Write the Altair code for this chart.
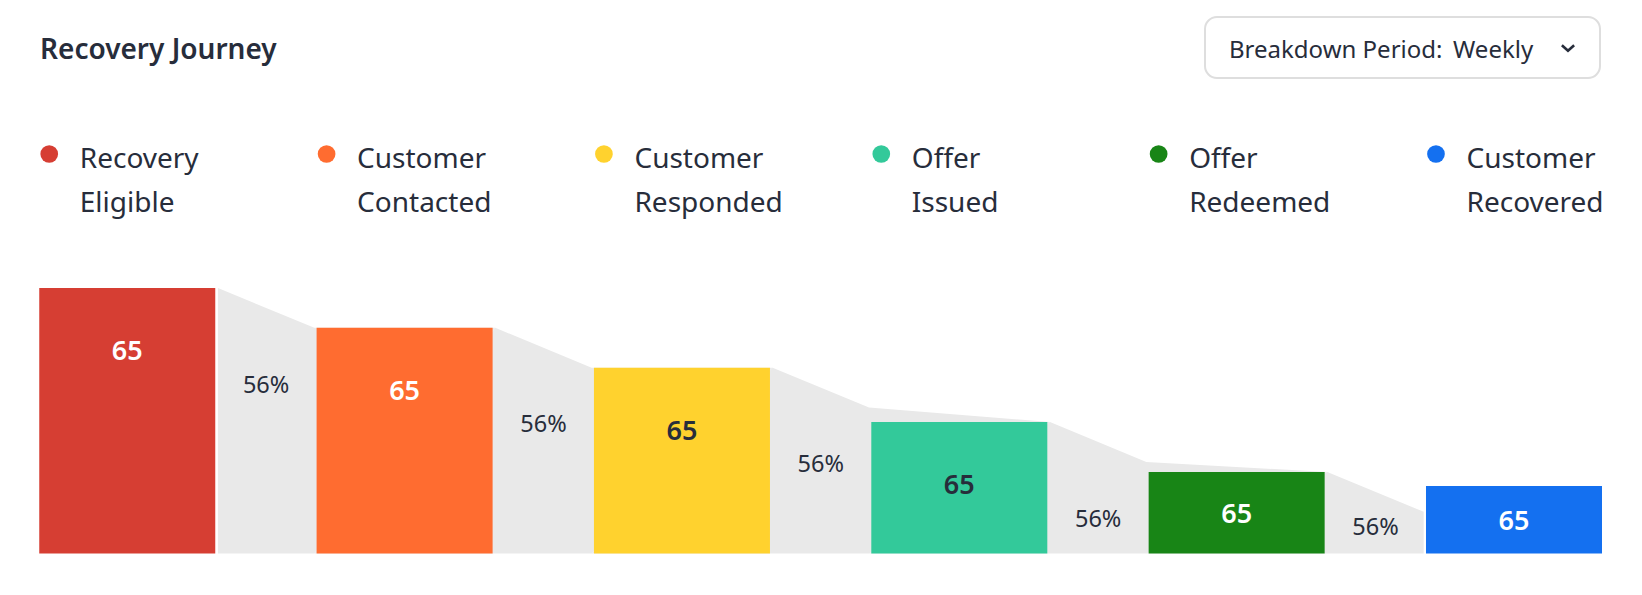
import altair as alt
import pandas as pd

# ---- data ----
stages = ["Recovery Eligible", "Customer Contacted", "Customer Responded",
          "Offer Issued", "Offer Redeemed", "Customer Recovered"]
bar_heights = [100, 85, 70, 49.5, 30.7, 25.4]      # relative bar heights
counts = [65, 65, 65, 65, 65, 65]                   # value labels in bars
conversion_pct = [56, 56, 56, 56, 56]               # step conversion labels

# ---- styles ----
colors = ["#D63E33", "#FF6C30", "#FFD22E", "#33C99A", "#188516", "#1470F0"]
label_colors = ["#FFFFFF", "#FFFFFF", "#272D3B", "#272D3B", "#FFFFFF", "#FFFFFF"]
DARK = "#272D3B"
GREY = "#E9E9E9"
FONT = "Noto Sans"

BAR_W = 0.6346          # bar width in slot units
CONN_X0 = 0.6443        # connector start in slot units
CONN_X1 = 0.9917        # connector end in slot units
DROP = 15               # connector slope drop (in value units)

bars = pd.DataFrame({
    "stage": stages,
    "idx": range(len(stages)),
    "h": bar_heights,
    "count": counts,
    "lcolor": label_colors,
})
bars["x0"] = bars["idx"]
bars["x1"] = bars["idx"] + BAR_W
bars["xc"] = bars["idx"] + BAR_W / 2
bars["base"] = 0
bars["ly"] = [max(h - 23.35, h / 2) for h in bar_heights]
bars["dot_x"] = bars["idx"] + 0.036
bars["txt_x"] = bars["idx"] + 0.146

conn_rows = []
lab_rows = []
for j, pct in enumerate(conversion_pct):
    top = bar_heights[j]
    conn_rows.append({"grp": j, "x": j + CONN_X0, "y": top})
    conn_rows.append({"grp": j, "x": j + CONN_X1, "y": top - DROP})
    lab_rows.append({"x": j + (CONN_X0 + CONN_X1) / 2,
                     "y": max(top - 36, 10.2),
                     "txt": f"{pct}%"})
conn = pd.DataFrame(conn_rows)
conn_lab = pd.DataFrame(lab_rows)

xscale = alt.Scale(domain=[0, len(stages) - 1 + BAR_W], range=[31.25, 1594], nice=False, zero=False)
yscale = alt.Scale(domain=[0, 100], range=[545.5, 280], nice=False)
cscale = alt.Scale(domain=stages, range=colors)

X = lambda f: alt.X(f, scale=xscale, axis=None)
Y = lambda f: alt.Y(f, scale=yscale, axis=None)

connectors = alt.Chart(conn).mark_area(color=GREY, orient="vertical").encode(
    x=X("x:Q"), y=Y("y:Q"), detail="grp:N"
)

rects = alt.Chart(bars).mark_rect().encode(
    x=X("x0:Q"), x2="x1:Q", y=Y("h:Q"), y2="base:Q",
    color=alt.Color("stage:N", scale=cscale, legend=None),
)

bar_labels = alt.Chart(bars).mark_text(
    font=FONT, fontSize=27, fontWeight=600, baseline="middle", align="center", dy=2
).encode(
    x=X("xc:Q"), y=Y("ly:Q"), text="count:Q",
    color=alt.Color("lcolor:N", scale=None),
)

conn_labels = alt.Chart(conn_lab).mark_text(
    font=FONT, fontSize=23.5, color=DARK, baseline="middle", align="center", dy=2
).encode(x=X("x:Q"), y=Y("y:Q"), text="txt:N")

legend_dots = alt.Chart(bars).mark_point(filled=True, size=314, opacity=1, shape="circle").encode(
    x=X("dot_x:Q"), y=alt.value(146),
    color=alt.Color("stage:N", scale=cscale, legend=None),
)

legend_text = alt.Chart(bars).mark_text(
    font=FONT, fontSize=28, color=DARK, align="left", baseline="alphabetic",
    lineBreak=" ", lineHeight=43.5,
).encode(x=X("txt_x:Q"), y=alt.value(160), text="stage:N")

header = pd.DataFrame({"k": [0]})
title = alt.Chart(header).mark_text(
    text="Recovery Journey", font=FONT, fontSize=28, fontWeight=600, color=DARK,
    align="left", baseline="alphabetic",
).encode(x=alt.value(32), y=alt.value(51))

dd_box = alt.Chart(header).mark_rect(
    fill="white", stroke="#DEDEDE", strokeWidth=2, cornerRadius=12
).encode(x=alt.value(1197), x2=alt.value(1592), y=alt.value(9), y2=alt.value(70))

dd_text1 = alt.Chart(header).mark_text(
    text="Breakdown Period:", font=FONT, fontSize=24, color=DARK,
    align="left", baseline="alphabetic",
).encode(x=alt.value(1221), y=alt.value(50.3))

dd_text2 = alt.Chart(header).mark_text(
    text="Weekly", font=FONT, fontSize=24, color=DARK,
    align="left", baseline="alphabetic",
).encode(x=alt.value(1445), y=alt.value(50.3))

chevron = alt.Chart(header).mark_point(
    shape="M-1,-0.45L0,0.45L1,-0.45", filled=False, size=150, strokeWidth=2.6,
    color=DARK, opacity=1,
).encode(x=alt.value(1560), y=alt.value(40))

chart = alt.layer(
    connectors, rects, bar_labels, conn_labels, legend_dots, legend_text,
    dd_box, dd_text1, dd_text2, chevron, title,
).properties(
    width=1626, height=575, padding=0
).configure(font=FONT, background="white").configure_view(stroke=None, strokeWidth=0)

chart.save("out.html", embed_options={"renderer": "svg", "actions": False})
